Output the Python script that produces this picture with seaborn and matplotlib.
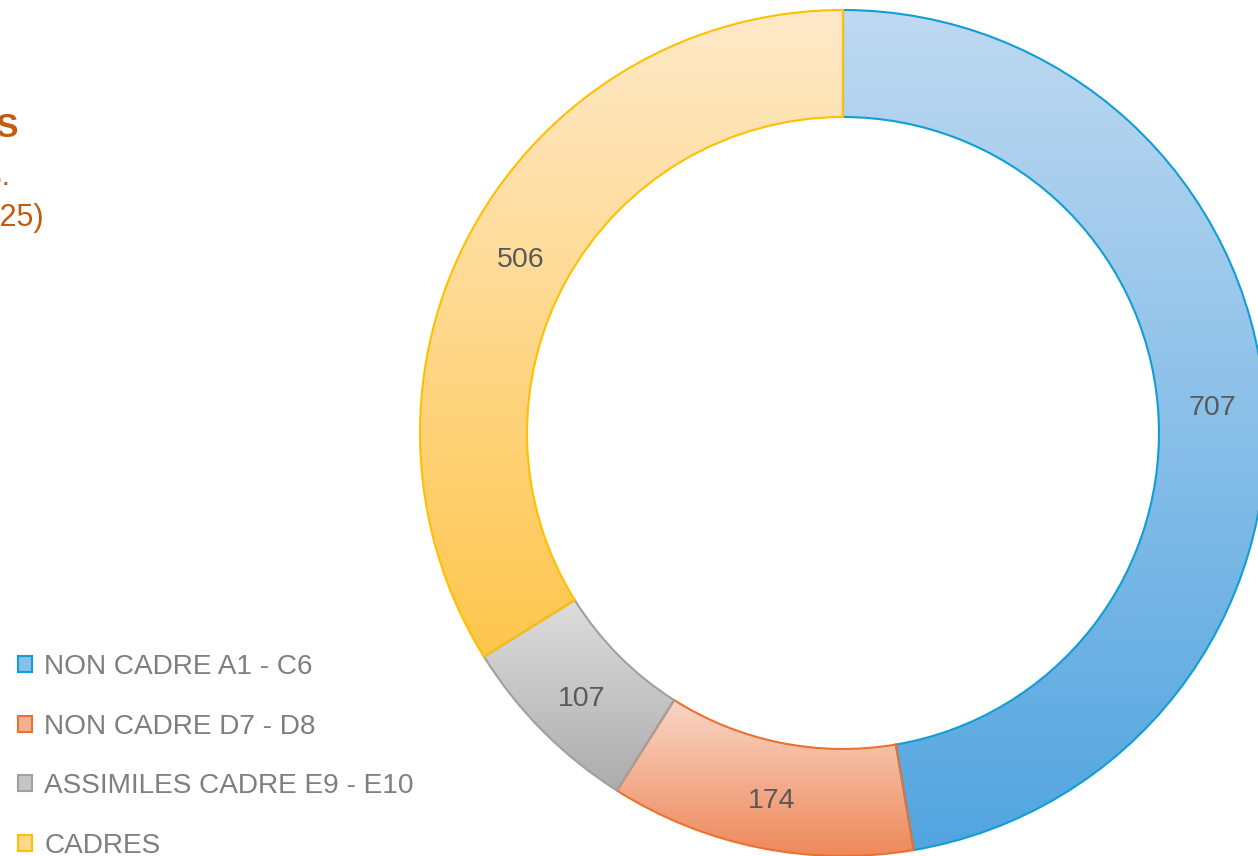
import matplotlib
matplotlib.use('Agg')
import matplotlib.pyplot as plt
from matplotlib.colors import to_rgb
from matplotlib.patches import Patch
from matplotlib.transforms import offset_copy
import seaborn as sns
import numpy as np

categories = ['NON CADRE A1 - C6', 'NON CADRE D7 - D8', 'ASSIMILES CADRE E9 - E10', 'CADRES']
values = [707, 174, 107, 506]
colors_top = ['#BFD9F1', '#F9D6C6', '#DDDDDD', '#FFE9C9']
colors_bottom = ['#52A5E0', '#EE895A', '#ACACAC', '#FEC64C']
edge_colors = ['#0F9ED5', '#E97132', '#A0A0A0', '#FFC000']

sns.set_theme(style='white')
plt.rcParams['font.family'] = ['Liberation Sans', 'DejaVu Sans']

W, H = 1258, 856
fig = plt.figure(figsize=(W / 100, H / 100), dpi=100)
ax = fig.add_axes([420 / W, 0, 846 / W, 846 / H])

total = sum(values)
wedges, texts, autotexts = ax.pie(
    values, startangle=90, counterclock=False, radius=1,
    wedgeprops=dict(width=0.253, linewidth=1.5),
    autopct=lambda p: f"{p * total / 100:.0f}", pctdistance=0.8735,
    textprops=dict(color='#595959', fontsize=20.5),
)

g = np.linspace(0, 1, 256)[:, None, None]
for w, top, bot, ec in zip(wedges, colors_top, colors_bottom, edge_colors):
    bb = w.get_path().get_extents()
    rgb = np.array(to_rgb(top))[None, None, :] * (1 - g) + np.array(to_rgb(bot))[None, None, :] * g
    im = ax.imshow(rgb, extent=(bb.x0, bb.x1, bb.y0, bb.y1), aspect='auto',
                   interpolation='bilinear', zorder=1)
    im.set_clip_path(w)
    w.set_facecolor('none')
    w.set_edgecolor(ec)
    w.set_zorder(2)

ax.set_xlim(-1, 1)
ax.set_ylim(-1, 1)
ax.set_aspect('equal')
ax.axis('off')

# labels sit a little lower than matplotlib's centering
for t in autotexts:
    t.set_zorder(3)
    t.set_transform(offset_copy(ax.transData, fig=fig, x=1, y=-6, units='dots'))

# title block, mostly outside the left edge
title_color = '#C55A11'
fig.text(19 / W, 1 - 137 / H, 'EFFECTIFS', ha='right', va='baseline',
         fontsize=24, fontweight='bold', color=title_color)
fig.text(10 / W, 1 - 185 / H, 'Répartition par catégories.', ha='right', va='baseline',
         fontsize=22, color=title_color)
fig.text(44 / W, 1 - 226 / H, '(au 31/12/2025)', ha='right', va='baseline',
         fontsize=22, color=title_color)

handles = [Patch(facecolor=tuple((np.array(to_rgb(t)) + np.array(to_rgb(b))) / 2), edgecolor=ec,
                 linewidth=1.5, label=c)
           for c, t, b, ec in zip(categories, colors_top, colors_bottom, edge_colors)]
fig.legend(handles=handles, loc='upper left', bbox_to_anchor=(18 / W, 1 - 654 / H),
           frameon=False, fontsize=20.2, handlelength=0.49, handleheight=0.49,
           handletextpad=0.45, labelspacing=1.2, borderpad=0, borderaxespad=0,
           labelcolor='#7F7F7F')

fig.savefig('out.png', dpi=100)
